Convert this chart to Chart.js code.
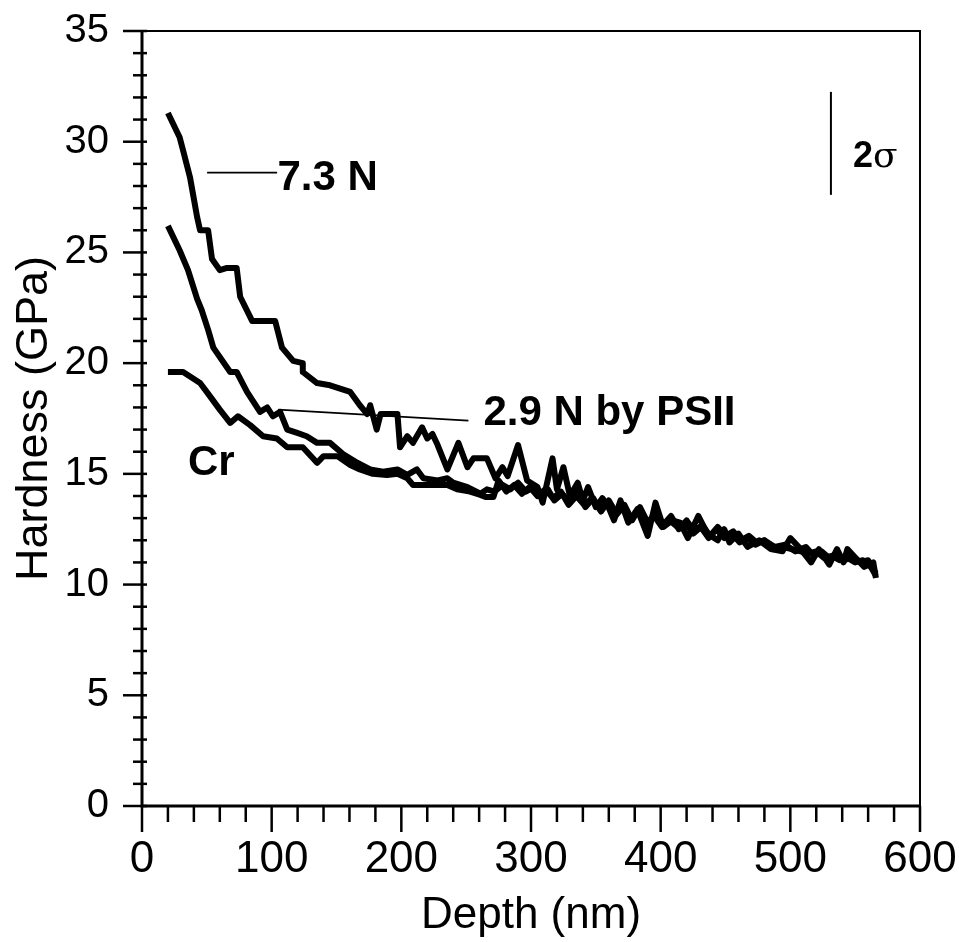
<!DOCTYPE html>
<html>
<head>
<meta charset="utf-8">
<script src="https://cdn.jsdelivr.net/npm/chart.js@4/dist/chart.umd.min.js"></script>
<style>
html,body{margin:0;padding:0;background:#fff;}
#wrap{width:959px;height:942px;}
</style>
</head>
<body>
<div id="wrap"><canvas id="c" width="959" height="942"></canvas></div>
<script>
// ---- Data ----
const depth73 = [20,29,31.7,37,42.5,44.8,51,54,60,65.6,73,75.7,85,102.7,108,116.6,124,124,135,145,160.6,168,173.7,176,181,184,191.5,197,199,204.6,209,216,220,224,228,235.5,244,251,255.6,266,272.6,278,282,290,297,305,309,316.6,320,325,330,336,340,344,350,355,359,364,369,375,382,390,396,402,409,415,421,429,436,444,449,453,460,467,476,485,494,500,508,516,522,530,536,541,544,552,557,564,566];
const hard73  = [31.3,30.2,29.6,28.4,26.6,26.0,26.0,24.7,24.2,24.3,24.3,23.0,21.9,21.9,20.7,20.1,20.0,19.6,19.1,19.0,18.7,18.1,17.7,18.1,17.0,17.7,17.7,17.7,16.2,16.7,16.4,17.1,16.6,16.8,16.3,15.2,16.4,15.3,15.7,15.7,14.8,15.3,14.9,16.3,14.7,14.4,13.7,15.7,14.3,15.3,14.0,14.6,13.8,14.4,13.5,13.9,13.6,12.9,13.8,12.8,13.4,12.2,13.7,12.6,12.9,12.8,12.1,13.1,12.3,12.0,12.5,11.9,12.3,11.7,12.0,11.6,11.5,12.1,11.6,11.0,11.6,10.9,11.6,11.0,11.6,11.1,10.8,11.0,10.3];

const depth29 = [20,29,35.5,42.5,46,51,55,68,73,81,91,96.5,101,106.5,112,119.7,127,135,145,155,166,176,186,197,204.6,212,217,228,235.5,240,251,261,266,272,278,284,290,296,302,308,313,318,324,330,336,342,348,354,360,366,372,378,384,390,396,402,408,414,420,426,432,438,444,450,456,462,468,474,480,488,496,504,512,518,524,530,536,542,548,554,560,566];
const hard29  = [26.2,25.1,24.2,22.9,22.4,21.5,20.7,19.6,19.6,18.7,17.8,18.0,17.6,17.8,17.0,16.85,16.7,16.4,16.4,15.9,15.5,15.2,15.1,15.2,14.95,15.2,14.8,14.7,14.8,14.6,14.4,14.1,14.3,14.2,14.5,14.3,14.6,14.2,14.4,14.0,14.3,13.8,14.1,13.7,14.2,13.5,13.9,13.3,13.8,13.2,13.6,12.9,13.5,12.8,13.2,12.7,13.1,12.5,12.9,12.4,12.7,12.2,12.6,12.2,12.4,12.0,12.2,11.9,12.0,11.7,11.8,11.5,11.7,11.3,11.5,11.2,11.4,11.1,11.3,11.0,11.1,10.5];

const depthCr = [20,31.7,44.8,52.5,60,68,74,83.4,93.4,104,112,124,135,140,150.6,160.6,168,178,189,197,204.6,209,220,235.5,243,253,261,265,271,275,281,287,293,299,305,311,317,323,329,335,341,347,353,359,365,371,377,383,389,395,401,407,413,419,425,431,437,443,449,455,461,467,473,480,487,494,501,508,514,520,526,532,538,544,550,556,562,566];
const hardCr  = [19.6,19.6,19.1,18.5,17.9,17.3,17.6,17.2,16.7,16.6,16.2,16.2,15.5,15.8,15.8,15.4,15.2,15.0,14.95,15.0,14.8,14.5,14.5,14.5,14.3,14.2,14.05,13.95,13.95,14.7,14.2,14.5,14.1,14.4,14.0,14.3,13.9,14.2,13.6,14.0,13.6,13.9,13.4,13.7,13.1,13.5,13.0,13.3,12.7,13.1,12.6,12.9,12.6,12.8,12.3,12.6,12.1,12.5,12.1,12.3,11.9,12.1,11.8,12.0,11.6,11.7,11.6,11.5,11.4,11.5,11.2,11.3,11.1,11.2,11.0,11.1,10.8,10.4];

const xTicks = [0,100,200,300,400,500,600];
const yTicks = [0,5,10,15,20,25,30,35];

// annotation labels (in data coordinates)
const labelText = ["7.3 N", "2.9 N by PSII", "Cr"];
const labelX = [104.5, 263.3, 35.5];
const labelY = [27.8, 17.2, 14.95];
// leader lines: [x1,y1,x2,y2]
const leaders = [[50.2,28.6,104.2,28.6],[105,17.9,251.7,17.4]];
// 2-sigma bar
const sigmaBar = [531.3, 32.25, 27.6];
const sigmaText = [548.3, 28.86];

function pts(xs, ys){ return xs.map((x,i)=>({x:x, y:ys[i]})); }

const FONT = "'Liberation Sans', Arial, Helvetica, sans-serif";

const frame = {
  id: 'frame',
  afterDraw(chart){
    const ctx = chart.ctx, xs = chart.scales.x, ys = chart.scales.y;
    const L = xs.getPixelForValue(0), R = xs.getPixelForValue(600);
    const T = ys.getPixelForValue(35), B = ys.getPixelForValue(0);
    ctx.save();
    ctx.strokeStyle = '#000';
    ctx.lineCap = 'butt';
    ctx.lineWidth = 2;
    ctx.beginPath();
    ctx.moveTo(L, T); ctx.lineTo(R, T); ctx.lineTo(R, B);
    ctx.stroke();
    ctx.lineWidth = 3;
    ctx.beginPath();
    ctx.moveTo(L, T); ctx.lineTo(L, B+1.5);
    ctx.moveTo(L-1.5, B); ctx.lineTo(R, B);
    ctx.stroke();
    ctx.lineWidth = 2.5;
    for (let v = 0; v <= 600; v += 20) {
      const px = xs.getPixelForValue(v);
      const major = v % 100 === 0;
      ctx.beginPath();
      ctx.moveTo(px, B);
      ctx.lineTo(px, B + (major ? 26 : 16));
      ctx.stroke();
    }
    for (let v = 0; v <= 35; v += 1) {
      const py = ys.getPixelForValue(v);
      const major = v % 5 === 0;
      ctx.beginPath();
      ctx.moveTo(L + 5, py);
      ctx.lineTo(L - (major ? 19 : 9), py);
      ctx.stroke();
    }
    ctx.lineWidth = 1.8;
    leaders.forEach(l => {
      ctx.beginPath();
      ctx.moveTo(xs.getPixelForValue(l[0]), ys.getPixelForValue(l[1]));
      ctx.lineTo(xs.getPixelForValue(l[2]), ys.getPixelForValue(l[3]));
      ctx.stroke();
    });
    ctx.lineWidth = 2;
    ctx.beginPath();
    ctx.moveTo(xs.getPixelForValue(sigmaBar[0]), ys.getPixelForValue(sigmaBar[1]));
    ctx.lineTo(xs.getPixelForValue(sigmaBar[0]), ys.getPixelForValue(sigmaBar[2]));
    ctx.stroke();
    ctx.fillStyle = '#000';
    ctx.textBaseline = 'alphabetic';
    ctx.textAlign = 'left';
    ctx.font = "bold 42px " + FONT;
    labelText.forEach((t,i) => {
      ctx.fillText(t, xs.getPixelForValue(labelX[i]), ys.getPixelForValue(labelY[i]));
    });
    const sx = xs.getPixelForValue(sigmaText[0]), sy = ys.getPixelForValue(sigmaText[1]);
    ctx.font = "bold 36px " + FONT;
    ctx.fillText("2", sx, sy);
    const w2 = ctx.measureText("2").width;
    ctx.font = "36px 'DejaVu Serif', 'Liberation Serif', serif";
    ctx.fillText("σ", sx + w2, sy);
    ctx.restore();
  }
};

const lineStyle = {
  showLine: true, pointRadius: 0, borderColor: '#000', backgroundColor: '#000',
  borderWidth: 6, borderJoinStyle: 'round', borderCapStyle: 'butt', tension: 0, fill: false
};

new Chart(document.getElementById('c'), {
  type: 'scatter',
  data: {
    datasets: [
      Object.assign({label: '7.3 N', data: pts(depth73, hard73)}, lineStyle),
      Object.assign({label: '2.9 N by PSII', data: pts(depth29, hard29)}, lineStyle),
      Object.assign({label: 'Cr', data: pts(depthCr, hardCr)}, lineStyle)
    ]
  },
  options: {
    responsive: false,
    animation: false,
    events: [],
    layout: { padding: { top: 31, right: 39, left: 0, bottom: 0 } },
    plugins: { legend: { display: false }, tooltip: { enabled: false } },
    scales: {
      x: {
        type: 'linear', min: 0, max: 600,
        afterFit: s => { s.height = 136; s.paddingLeft = 0; s.paddingRight = 0; s.paddingTop = 0; s.paddingBottom = 0; },
        afterBuildTicks: s => { s.ticks = xTicks.map(v => ({value: v})); },
        grid: { display: false, drawTicks: false },
        border: { display: false },
        ticks: { color: '#000', font: { family: FONT, size: 44 }, padding: 27, maxRotation: 0, autoSkip: false },
        title: { display: true, text: 'Depth (nm)', color: '#000', font: { family: FONT, size: 44 }, padding: { top: 0, bottom: 0 } }
      },
      y: {
        type: 'linear', min: 0, max: 35,
        afterFit: s => { s.width = 142; s.paddingLeft = 0; s.paddingRight = 0; s.paddingTop = 0; s.paddingBottom = 0; },
        afterBuildTicks: s => { s.ticks = yTicks.map(v => ({value: v})); },
        grid: { display: false, drawTicks: false },
        border: { display: false },
        ticks: { color: '#000', font: { family: FONT, size: 40 }, padding: 33, autoSkip: false },
        title: { display: true, text: 'Hardness (GPa)', color: '#000', font: { family: FONT, size: 45 }, padding: { top: 8, bottom: 0 } }
      }
    }
  },
  plugins: [frame]
});
</script>
</body>
</html>
